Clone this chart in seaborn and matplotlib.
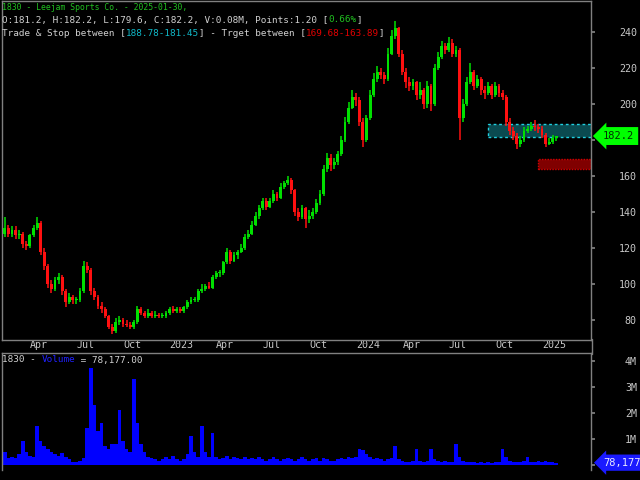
import numpy as np
import pandas as pd
import matplotlib
matplotlib.use("Agg")
import matplotlib.pyplot as plt
import matplotlib.transforms as mtransforms
from matplotlib.lines import Line2D
from matplotlib.patches import Rectangle
import seaborn as sns

# 1830 - Leejam Sports Co., weekly candles (Feb 2022 - Jan 2025)
first_week = "2022-02-17"

opens = [128, 131, 128, 130, 127, 128, 122, 121, 127, 131,
         134, 118, 110, 100, 97, 102, 104, 96, 90, 93,
         91, 91, 96, 110, 108, 96, 93, 88, 86, 82,
         76, 74, 79, 80, 78, 77, 76, 79, 86, 84,
         82, 84, 82, 83, 82, 82, 84, 86, 85, 86,
         85, 87, 90, 91, 91, 96, 97, 99, 98, 104,
         106, 106, 112, 118, 113, 116, 118, 120, 126, 128,
         133, 138, 142, 146, 143, 146, 150, 148, 154, 156,
         158, 152, 140, 137, 142, 136, 138, 140, 145, 150,
         164, 170, 166, 168, 172, 180, 190, 198, 204, 202,
         190, 180, 192, 205, 214, 218, 216, 214, 228, 238,
         242, 228, 218, 212, 210, 212, 205, 208, 200, 210,
         200, 220, 226, 232, 230, 234, 228, 230, 192, 200,
         212, 218, 210, 214, 208, 206, 210, 205, 210, 206,
         204, 190, 185, 182, 178, 180, 185, 186, 188, 187,
         186, 183, 178, 179, 181.2]

highs = [137, 133, 132, 132, 130, 129, 124, 128, 133, 137,
         135, 120, 111, 102, 104, 106, 105, 97, 95, 94,
         93, 98, 113, 112, 109, 98, 94, 90, 87, 83,
         78, 81, 82, 81, 80, 79, 80, 88, 87, 85,
         86, 85, 85, 84, 84, 85, 87, 88, 87, 87,
         88, 91, 93, 93, 97, 100, 100, 101, 105, 107,
         108, 113, 120, 119, 118, 119, 122, 128, 130, 135,
         140, 144, 148, 148, 148, 152, 151, 156, 157, 160,
         159, 153, 142, 144, 143, 141, 142, 147, 152, 166,
         173, 172, 170, 174, 182, 193, 201, 208, 206, 204,
         192, 194, 208, 217, 221, 220, 218, 231, 241, 246,
         243, 230, 220, 215, 214, 213, 212, 209, 213, 211,
         222, 229, 235, 234, 237, 236, 232, 231, 203, 215,
         223, 219, 216, 215, 210, 212, 211, 212, 211, 208,
         205, 192, 187, 184, 182, 187, 188, 190, 191, 189,
         188, 184, 181, 183, 182.2]

lows = [126, 126, 126, 125, 125, 120, 119, 120, 126, 130,
        116, 108, 98, 95, 96, 100, 94, 87, 89, 89,
        89, 90, 95, 106, 94, 91, 86, 84, 81, 75,
        72, 73, 77, 76, 76, 75, 75, 78, 83, 81,
        81, 81, 81, 81, 81, 81, 83, 84, 84, 84,
        84, 86, 89, 90, 90, 95, 96, 97, 97, 103,
        104, 105, 111, 111, 112, 114, 117, 119, 125, 127,
        132, 136, 141, 141, 142, 145, 146, 147, 153, 155,
        150, 138, 135, 136, 131, 134, 136, 139, 144, 149,
        162, 163, 164, 166, 171, 179, 189, 197, 199, 188,
        176, 179, 191, 204, 212, 214, 211, 213, 227, 236,
        226, 216, 209, 207, 208, 202, 203, 197, 198, 196,
        199, 219, 225, 228, 229, 226, 226, 180, 190, 199,
        211, 208, 209, 205, 203, 205, 203, 204, 204, 202,
        188, 183, 180, 175, 176, 179, 184, 185, 185, 184,
        181, 176, 177, 178, 179.6]

closes = [131, 128, 130, 127, 128, 122, 121, 127, 131, 134,
          118, 110, 100, 97, 102, 104, 96, 90, 93, 91,
          91, 96, 110, 108, 96, 93, 88, 86, 82, 76,
          74, 79, 80, 78, 77, 76, 79, 86, 84, 82,
          84, 82, 83, 82, 82, 84, 86, 85, 86, 85,
          87, 90, 91, 91, 96, 97, 99, 98, 104, 106,
          106, 112, 118, 113, 116, 118, 120, 126, 128, 133,
          138, 142, 146, 143, 146, 150, 148, 154, 156, 158,
          152, 140, 137, 142, 136, 138, 140, 145, 150, 164,
          170, 166, 168, 172, 180, 190, 198, 204, 202, 190,
          180, 192, 205, 214, 218, 216, 214, 228, 238, 242,
          228, 218, 212, 210, 212, 205, 208, 200, 210, 200,
          220, 226, 232, 230, 234, 228, 230, 192, 200, 212,
          218, 210, 214, 208, 206, 210, 205, 210, 206, 204,
          190, 185, 182, 178, 180, 185, 186, 188, 187, 186,
          183, 178, 179, 181, 182.2]

# volume in millions of shares
volumes_m = [0.5, 0.25, 0.3, 0.25, 0.4, 0.9, 0.5, 0.35, 0.3, 1.5,
             0.9, 0.7, 0.6, 0.5, 0.4, 0.35, 0.45, 0.3, 0.2, 0.1,
             0.1, 0.15, 0.25, 1.4, 3.7, 2.3, 1.3, 1.6, 0.7, 0.6,
             0.8, 0.8, 2.1, 0.9, 0.6, 0.5, 3.3, 1.6, 0.8, 0.5,
             0.3, 0.25, 0.2, 0.15, 0.2, 0.3, 0.2, 0.35, 0.2, 0.15,
             0.2, 0.4, 1.1, 0.5, 0.3, 1.5, 0.5, 0.3, 1.2, 0.3,
             0.2, 0.25, 0.35, 0.2, 0.3, 0.25, 0.2, 0.3, 0.2, 0.25,
             0.2, 0.3, 0.2, 0.15, 0.2, 0.3, 0.2, 0.15, 0.2, 0.25,
             0.2, 0.15, 0.2, 0.3, 0.2, 0.15, 0.2, 0.25, 0.15, 0.25,
             0.2, 0.15, 0.15, 0.2, 0.25, 0.2, 0.3, 0.25, 0.3, 0.6,
             0.55, 0.4, 0.3, 0.2, 0.25, 0.2, 0.15, 0.2, 0.25, 0.7,
             0.2, 0.15, 0.1, 0.1, 0.15, 0.6, 0.15, 0.1, 0.15, 0.6,
             0.2, 0.15, 0.1, 0.15, 0.1, 0.1, 0.8, 0.3, 0.15, 0.1,
             0.1, 0.1, 0.08, 0.1, 0.08, 0.1, 0.08, 0.1, 0.1, 0.6,
             0.3, 0.15, 0.1, 0.1, 0.1, 0.15, 0.3, 0.1, 0.1, 0.15,
             0.1, 0.15, 0.1, 0.12, 0.078]

price_ticks = [80, 100, 120, 140, 160, 180, 200, 220, 240]
# 180 sits under the last-price marker in the original
price_tick_labels = ["80", "100", "120", "140", "160", "", "200", "220", "240"]
volume_ticks_m = [0, 1, 2, 3, 4]
volume_tick_labels = ["", "1M", "2M", "3M", "4M"]

trade_zone = (181.45, 188.78)
target_zone = (163.89, 169.68)
trade_zone_start = 135
target_zone_start = 149

header_title = "1830 - Leejam Sports Co. - 2025-01-30,"
last_volume = 78177

# ------------------------------------------------------------
# style
# ------------------------------------------------------------
sns.set_theme(style="dark", rc={
    "figure.facecolor": "black",
    "axes.facecolor": "black",
    "axes.edgecolor": "#808080",
    "axes.linewidth": 1.0,
    "text.color": "#d0d0d0",
    "xtick.color": "#808080",
    "ytick.color": "#808080",
    "xtick.labelcolor": "#c8c8c8",
    "ytick.labelcolor": "#c8c8c8",
})
plt.rcParams["font.family"] = ["DejaVu Sans Mono", "DejaVu Sans"]

GREEN = "#00e000"
RED = "#ff1010"
GRAY = "#d0d0d0"
EDGE = "#808080"

df = pd.DataFrame({
    "date": pd.date_range(first_week, periods=len(closes), freq="7D"),
    "open": opens, "high": highs, "low": lows, "close": closes,
    "volume": np.array(volumes_m) * 1e6,
})
df["idx"] = np.arange(len(df))
df["up"] = df["close"] >= df["open"]

fig = plt.figure(figsize=(6.4, 4.8), dpi=100)
ax = fig.add_axes([2 / 640, 1 - 340 / 480, 589 / 640, 339 / 480])
axv = fig.add_axes([2 / 640, 1 - 470 / 480, 589 / 640, 117 / 480])

# ------------------------------------------------------------
# candles
# ------------------------------------------------------------
colors = np.where(df["up"], GREEN, RED)
ax.vlines(df["idx"], df["low"], df["high"], colors=colors, lw=1.1, zorder=2)
body_low = df[["open", "close"]].min(axis=1)
body_h = (df["close"] - df["open"]).abs().clip(lower=0.6)
ax.bar(df["idx"], body_h, bottom=body_low, width=0.8, color=colors,
       linewidth=0, zorder=3)

xmax = 163.7
ax.set_xlim(-0.8, xmax)
ax.set_ylim(68.9, 257.2)

# trade / target zones
ax.add_patch(Rectangle((trade_zone_start, trade_zone[0]), xmax - trade_zone_start,
                       trade_zone[1] - trade_zone[0], fc="#0b4a50", ec="#20d0e0",
                       ls=(0, (2, 2)), lw=1.0, zorder=1))
ax.add_patch(Rectangle((target_zone_start, target_zone[0]), xmax - target_zone_start,
                       target_zone[1] - target_zone[0], fc="#800000", ec="#d00000",
                       ls=(0, (1, 1)), lw=1.0, zorder=1))

# right price axis
ax.yaxis.tick_right()
ax.set_yticks(price_ticks)
ax.set_yticklabels(price_tick_labels)
ax.tick_params(axis="y", length=3, pad=30, labelsize=7.2)
for lab in ax.get_yticklabels():
    lab.set_horizontalalignment("right")

# quarter ticks in the date strip under the price panel
# (the 1st of the month falls early in the first week of each quarter)
q = df[(df["date"].dt.month.isin([1, 4, 7, 10])) & (df["date"].dt.day <= 7)]
ax.set_xticks(q["idx"] - 0.8)
ax.set_xticklabels([str(d.year) if d.month == 1 else d.strftime("%b") for d in q["date"]])
ax.tick_params(axis="x", length=2.5, pad=-2.2, labelsize=7.2, direction="out")
shift = mtransforms.ScaledTranslation(3 / 100, 0, fig.dpi_scale_trans)
for lab in ax.get_xticklabels():
    lab.set_horizontalalignment("left")
    lab.set_transform(lab.get_transform() + shift)
ax.set_xlabel("")
ax.set_ylabel("")

# right border through the date strip
fig.add_artist(Line2D([591.5 / 640] * 2, [1 - 354 / 480, 1 - 339 / 480],
                      transform=fig.transFigure, color=EDGE, lw=1.0))

# last price marker
ax.annotate(f"{closes[-1]}", xy=(1.0, closes[-1]), xycoords=ax.get_yaxis_transform(),
            xytext=(12, 0), textcoords="offset pixels", ha="left", va="center",
            color="#003000", fontsize=7.5, annotation_clip=False, zorder=10,
            bbox=dict(boxstyle="larrow,pad=0.38", fc="#00ff00", ec="none"))

# ------------------------------------------------------------
# volume
# ------------------------------------------------------------
sns.barplot(data=df, x="idx", y="volume", native_scale=True, color="#0000ff",
            saturation=1, width=1.0, errorbar=None, linewidth=0, ax=axv)
axv.set_xlim(-0.8, xmax)
axv.set_ylim(-0.204e6, 4.296e6)
axv.spines["bottom"].set_visible(False)
axv.set_xticks([])
axv.set_xlabel("")
axv.set_ylabel("")
axv.yaxis.tick_right()
axv.set_yticks([t * 1e6 for t in volume_ticks_m])
axv.set_yticklabels(volume_tick_labels)
axv.tick_params(axis="y", length=3, pad=30, labelsize=7.2)
for lab in axv.get_yticklabels():
    lab.set_horizontalalignment("right")

axv.annotate(f"{last_volume:,}", xy=(1.0, last_volume), xycoords=axv.get_yaxis_transform(),
             xytext=(12, 0), textcoords="offset pixels", ha="left", va="center",
             color="#e8e8ff", fontsize=7.5, annotation_clip=False, zorder=10,
             bbox=dict(boxstyle="larrow,pad=0.3", fc="#1a1aff", ec="none"))


# ------------------------------------------------------------
# header texts
# ------------------------------------------------------------
def colored_line(host, x, y, parts, size):
    prev = host.text(x, y, parts[0][0], color=parts[0][1], fontsize=size,
                     transform=fig.transFigure, va="center", ha="left", zorder=20)
    for s, c in parts[1:]:
        prev = host.annotate(s, xy=(1, 0), xycoords=prev, va="bottom", ha="left",
                             color=c, fontsize=size, annotation_clip=False, zorder=20)


o, h, l, c = opens[-1], highs[-1], lows[-1], closes[-1]
colored_line(ax, 2 / 640, 1 - 8 / 480, [(header_title, "#20c020")], 5.85)
colored_line(ax, 2 / 640, 1 - 20 / 480, [
    (f"O:{o}, H:{h}, L:{l}, C:{c}, V:0.08M, Points:1.20 [", GRAY),
    ("0.66%", "#20c020"), ("]", GRAY)], 6.75)
colored_line(ax, 2 / 640, 1 - 33 / 480, [
    ("Trade & Stop between [", GRAY),
    (f"{trade_zone[1]:.2f}-{trade_zone[0]:.2f}", "#10b8c8"),
    ("] - Trget between [", GRAY),
    (f"{target_zone[1]:.2f}-{target_zone[0]:.2f}", "#e00000"),
    ("]", GRAY)], 6.75)
colored_line(axv, 2 / 640, 1 - 360 / 480, [
    ("1830 - ", GRAY), ("Volume", "#2020ff"), (f" = {last_volume:,}.00", GRAY)], 6.75)

fig.savefig("out.png", dpi=100, facecolor="black")
plt.close(fig)
